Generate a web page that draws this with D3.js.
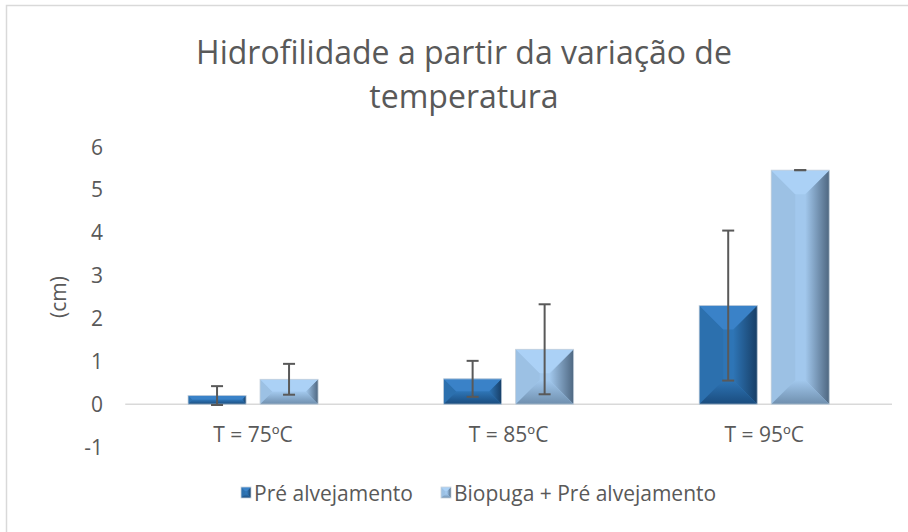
<!DOCTYPE html>
<html>
<head>
<meta charset="utf-8">
<script src="https://cdn.jsdelivr.net/npm/d3@7"></script>
<style>
  body { margin: 0; background: #fff; }
  text { font-family: "Open Sans", sans-serif; fill: #595959; }
</style>
</head>
<body>
<div id="chart"></div>
<script>
const categories = ["T = 75ºC", "T = 85ºC", "T = 95ºC"];
const seriesNames = ["Pré alvejamento", "Biopuga + Pré alvejamento"];
const preValues = [0.20, 0.59, 2.30];
const preErrors = [0.22, 0.42, 1.75];
const bioValues = [0.58, 1.28, 5.46];
const bioErrors = [0.36, 1.05, 0.0];
const yTicks = [-1, 0, 1, 2, 3, 4, 5, 6];

const width = 908, height = 532;

// bevel colour sets: base, top facet, left facet, right edge, bottom edge
const palettes = [
    { base: "#2e75b6", top: "#3a82c8", left: "#2c70ae", right: "#173e66", bottom: "#1a4c7e" },
    { base: "#a2c8ed", top: "#abd1f6", left: "#9cc1e4", right: "#4e6781", bottom: "#6f8fae" }
];

const svg = d3.select("#chart").append("svg")
    .attr("width", width)
    .attr("height", height);

const defs = svg.append("defs");
palettes.forEach(function(p, i) {
    const gr = defs.append("linearGradient").attr("id", "right" + i)
        .attr("x1", 0).attr("x2", 1).attr("y1", 0).attr("y2", 0);
    gr.append("stop").attr("offset", 0).attr("stop-color", p.base);
    gr.append("stop").attr("offset", 1).attr("stop-color", p.right);
    const gb = defs.append("linearGradient").attr("id", "bottom" + i)
        .attr("x1", 0).attr("x2", 0).attr("y1", 0).attr("y2", 1);
    gb.append("stop").attr("offset", 0).attr("stop-color", p.base);
    gb.append("stop").attr("offset", 1).attr("stop-color", p.bottom);
});

// chart frame
svg.append("path")
    .attr("d", "M6.5,532V5.5H908")
    .attr("fill", "none")
    .attr("stroke", "#d9d9d9")
    .attr("stroke-width", 1.5);

// title
const title = svg.append("text")
    .attr("text-anchor", "middle")
    .style("font-size", "32px");
title.append("tspan").attr("x", 464).attr("y", 64).text("Hidrofilidade a partir da variação de");
title.append("tspan").attr("x", 464).attr("y", 108).text("temperatura");

const x = d3.scaleBand().domain(categories).range([125.25, 892]).padding(0);
const xs = d3.scaleBand().domain([0, 1])
    .range([x.bandwidth() * 0.2456, x.bandwidth() * 0.7544])
    .paddingInner(0.194);
const y = d3.scaleLinear().domain([-1, 6]).range([447, 147]);

// y tick labels
svg.append("g").selectAll("text")
    .data(yTicks)
    .enter().append("text")
    .attr("x", 103)
    .attr("y", function(d) { return y(d); })
    .attr("dy", "0.36em")
    .attr("text-anchor", "end")
    .style("font-size", "21px")
    .text(function(d) { return d; });

svg.append("text")
    .attr("transform", "translate(66," + y(2.5) + ") rotate(-90)")
    .attr("text-anchor", "middle")
    .style("font-size", "21px")
    .text("(cm)");

// axis line at zero
svg.append("line")
    .attr("x1", x.range()[0]).attr("x2", x.range()[1])
    .attr("y1", y(0)).attr("y2", y(0))
    .attr("stroke", "#d9d9d9")
    .attr("stroke-width", 1.5);

// category labels
svg.append("g").selectAll("text")
    .data(categories)
    .enter().append("text")
    .attr("x", function(d) { return x(d) + x.bandwidth() / 2; })
    .attr("y", 442)
    .attr("text-anchor", "middle")
    .style("font-size", "21px")
    .text(function(d) { return d; });

// draws one bevelled box
function bevelBox(g, x0, x1, y0, y1, si, maxB) {
    const p = palettes[si];
    const b = Math.min((x1 - x0) / 2, (y1 - y0) / 2, maxB);
    const pts = function(a) { return a.map(function(q) { return q.join(","); }).join(" "); };
    g.append("rect").attr("x", x0).attr("y", y0)
        .attr("width", x1 - x0).attr("height", y1 - y0).attr("fill", p.base);
    g.append("polygon").attr("points", pts([[x0, y0], [x0 + b, y0 + b], [x0 + b, y1 - b], [x0, y1]]))
        .attr("fill", p.left);
    g.append("polygon").attr("points", pts([[x1, y0], [x1 - b, y0 + b], [x1 - b, y1 - b], [x1, y1]]))
        .attr("fill", "url(#right" + si + ")");
    g.append("polygon").attr("points", pts([[x0, y0], [x1, y0], [x1 - b, y0 + b], [x0 + b, y0 + b]]))
        .attr("fill", p.top);
    g.append("polygon").attr("points", pts([[x0, y1], [x1, y1], [x1 - b, y1 - b], [x0 + b, y1 - b]]))
        .attr("fill", "url(#bottom" + si + ")");
    g.append("rect").attr("x", x0).attr("y", y0)
        .attr("width", x1 - x0).attr("height", y1 - y0)
        .attr("fill", "none").attr("stroke", "#c8d2dc").attr("stroke-width", 0.8);
}

const series = [
    { values: preValues, errors: preErrors },
    { values: bioValues, errors: bioErrors }
];

const bars = svg.append("g");
series.forEach(function(s, si) {
    s.values.forEach(function(v, i) {
        const x0 = x(categories[i]) + xs(si);
        bevelBox(bars.append("g"), x0, x0 + xs.bandwidth(), y(v), y(0), si, 24);
    });
});

// error bars
const err = svg.append("g").attr("stroke", "#595959").attr("stroke-width", 2);
series.forEach(function(s, si) {
    s.values.forEach(function(v, i) {
        const cx = x(categories[i]) + xs(si) + xs.bandwidth() / 2;
        const e = s.errors[i];
        const hi = y(v + e), lo = y(v - e);
        err.append("line").attr("x1", cx).attr("x2", cx).attr("y1", hi).attr("y2", lo);
        err.append("line").attr("x1", cx - 6).attr("x2", cx + 6).attr("y1", hi).attr("y2", hi);
        err.append("line").attr("x1", cx - 6).attr("x2", cx + 6).attr("y1", lo).attr("y2", lo);
    });
});

// legend
const legendX = [241, 441];
const legend = svg.append("g");
seriesNames.forEach(function(name, si) {
    bevelBox(legend.append("g"), legendX[si], legendX[si] + 10, 487, 498, si, 4);
    legend.append("text")
        .attr("x", legendX[si] + 13)
        .attr("y", 493)
        .attr("dy", "0.36em")
        .style("font-size", "21px")
        .text(name);
});
</script>
</body>
</html>
